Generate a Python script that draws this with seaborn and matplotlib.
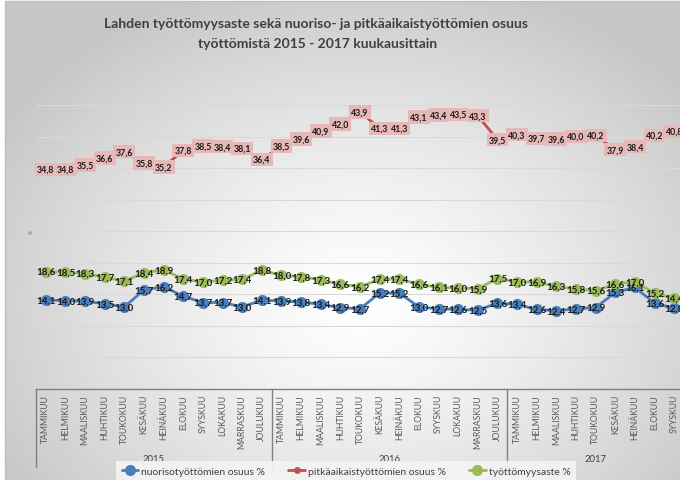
import numpy as np
import pandas as pd
import matplotlib
matplotlib.use("Agg")
from matplotlib import pyplot as plt
import seaborn as sns

# data (Lahti, 2015 - 2017 by month)
months = ['TAMMIKUU', 'HELMIKUU', 'MAALISKUU', 'HUHTIKUU', 'TOUKOKUU', 'KESÄKUU',
          'HEINÄKUU', 'ELOKUU', 'SYYSKUU', 'LOKAKUU', 'MARRASKUU', 'JOULUKUU']
years = ['2015', '2016', '2017']
n_2017 = 9

nuoriso = [14.1, 14.0, 13.9, 13.5, 13.0, 15.7, 16.2, 14.7, 13.7, 13.7, 13.0, 14.1,
           13.9, 13.8, 13.4, 12.9, 12.7, 15.2, 15.2, 13.0, 12.7, 12.6, 12.5, 13.6,
           13.4, 12.6, 12.4, 12.7, 12.9, 15.3, 16.1, 13.6, 12.8]
pitkaaikais = [34.8, 34.8, 35.5, 36.6, 37.6, 35.8, 35.2, 37.8, 38.5, 38.4, 38.1, 36.4,
               38.5, 39.6, 40.9, 42.0, 43.9, 41.3, 41.3, 43.1, 43.4, 43.5, 43.3, 39.5,
               40.3, 39.7, 39.6, 40.0, 40.2, 37.9, 38.4, 40.2, 40.8]
tyottomyys = [18.6, 18.5, 18.3, 17.7, 17.1, 18.4, 18.9, 17.4, 17.0, 17.2, 17.4, 18.8,
              18.0, 17.8, 17.3, 16.6, 16.2, 17.4, 17.4, 16.6, 16.1, 16.0, 15.9, 17.5,
              17.0, 16.9, 16.3, 15.8, 15.6, 16.6, 17.0, 15.2, 14.4]

series_names = ['nuorisotyöttömien osuus %', 'pitkäaikaistyöttömien osuus %', 'työttömyysaste %']
series_vals = [nuoriso, pitkaaikais, tyottomyys]
colors = ['#4a7ebb', '#c0504d', '#9bbb59']

month_labels = months * 2 + months[:n_2017]
idx = np.arange(len(month_labels))

sns.set_style("white")
plt.rcParams['font.family'] = ['Lato', 'DejaVu Sans']

W, H = 680, 481
fig = plt.figure(figsize=(W / 100, H / 100), dpi=100)

# radial grey background like the Excel chart area
bg = fig.add_axes([0, 0, 1, 1], zorder=-10)
yy, xx = np.mgrid[0:H, 0:W]
r = np.sqrt(((xx - 360) / 420.0) ** 2 + ((yy - 300) / 330.0) ** 2)
shade = 1 - 0.22 * np.clip(r, 0, 1) ** 1.3
img = np.dstack([shade, shade, shade])
img[:, :5] = 1.0
img[:2, :] = 1.0
bg.imshow(img, extent=(0, W, H, 0), aspect='auto')
bg.plot([5, 5, W], [H, 2, 2], color='#bfbfbf', lw=1)
bg.set_xlim(0, W)
bg.set_ylim(H, 0)
bg.axis('off')

x0, x1, ytop, ybot = 36, 684, 106, 390
ax = fig.add_axes([x0 / W, 1 - ybot / H, (x1 - x0) / W, (ybot - ytop) / H])
ax.set_facecolor('none')

df = pd.DataFrame({'idx': idx})
for name, vals, col in zip(series_names, series_vals, colors):
    df[name] = vals
    ms = 5 if col == '#c0504d' else 8
    sns.lineplot(data=df, x='idx', y=name, ax=ax, color=col, lw=2, marker='o',
                 markersize=ms, markeredgewidth=0, label=name, legend=False)

# data labels
for name, vals, col in zip(series_names, series_vals, colors):
    for i, v in zip(idx, vals):
        txt = f"{v:.1f}".replace('.', ',')
        if col == '#c0504d':
            ax.text(i, v, txt, ha='center', va='center', fontsize=6.3, fontweight='bold',
                    color='#1a1a1a', zorder=5,
                    bbox=dict(boxstyle='square,pad=0.25', fc='#e6b9b8', ec='none'))
        else:
            ax.text(i, v, txt, ha='center', va='center', fontsize=7, fontweight='bold',
                    color='#1a1a1a', zorder=5)

ax.set_xlim(-0.5, len(idx) - 0.5)
ax.set_ylim(0, 45)
ax.set_yticks(np.arange(0, 46, 5))
ax.set_yticklabels([])
ax.tick_params(left=False, bottom=False, labelbottom=False)
ax.grid(axis='y', color='#d9d9d9', lw=0.8)
ax.set_xlabel('')
ax.set_ylabel('')
for s in ['top', 'right', 'left']:
    ax.spines[s].set_visible(False)
ax.spines['bottom'].set_color('#808080')
ax.spines['bottom'].set_linewidth(1)

# category axis: months and years
tr = ax.get_xaxis_transform()
ph = ybot - ytop
for i, m in zip(idx, month_labels):
    ax.text(i, -5 / ph, m, transform=tr, rotation=90, ha='center', va='top',
            fontsize=6.2, color='#595959', clip_on=False)
for k, yr in enumerate(years):
    start = k * 12 - 0.5
    end = min(start + 12, len(idx) - 0.5)
    ax.text((start + end) / 2, -70 / ph, yr, transform=tr, ha='center', va='center',
            fontsize=6.8, color='#404040', clip_on=False)
    ax.plot([start, start], [0, -78 / ph], transform=tr, color='#808080', lw=1,
            clip_on=False)

fig.text(31 / W, 1 - 232 / H, '%', rotation=90, fontsize=3.5, color='#595959',
         ha='center', va='center')

fig.text(316 / W, 1 - 24 / H, 'Lahden työttömyysaste sekä nuoriso- ja pitkäaikaistyöttömien osuus',
         ha='center', va='center', fontsize=10, fontweight='bold', color='#404040')
fig.text(318 / W, 1 - 44 / H, 'työttömistä 2015 - 2017 kuukausittain',
         ha='center', va='center', fontsize=10, fontweight='bold', color='#404040')

handles, labels = ax.get_legend_handles_labels()
leg = fig.legend(handles, labels, loc='center', bbox_to_anchor=(346 / W, 1 - 472 / H),
                 ncol=3, fontsize=7.5, frameon=True, handlelength=1.6,
                 columnspacing=2.2, handletextpad=0.3, borderpad=0.5)
leg.get_frame().set_facecolor('#f4f4f4')
leg.get_frame().set_edgecolor('none')
leg.get_frame().set_alpha(0.9)
leg.get_frame().set_boxstyle('square', pad=0)
for t in leg.get_texts():
    t.set_color('#404040')

fig.savefig('out.png', dpi=100)
